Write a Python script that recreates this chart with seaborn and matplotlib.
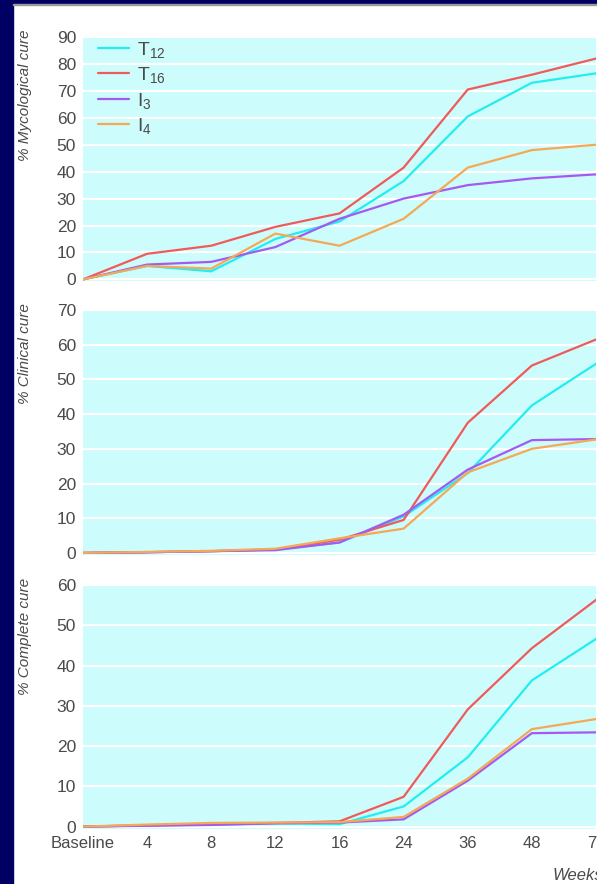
import numpy as np
import pandas as pd
import matplotlib
matplotlib.use("Agg")
import matplotlib.pyplot as plt
import seaborn as sns
from matplotlib.patches import Rectangle

# data
weeks = ["Baseline", "4", "8", "12", "16", "24", "36", "48", "72"]
groups = ["T12", "T16", "I3", "I4"]
group_labels = ["T$_{12}$", "T$_{16}$", "I$_3$", "I$_4$"]

myco_t12 = [0, 5, 3, 15, 21.5, 36.5, 60.5, 73, 76.5]
myco_t16 = [0, 9.5, 12.5, 19.5, 24.5, 41.5, 70.5, 76, 82]
myco_i3 = [0, 5.5, 6.5, 12, 22.5, 30, 35, 37.5, 39]
myco_i4 = [0, 5, 4, 17, 12.5, 22.5, 41.5, 48, 50]

clin_t12 = [0, 0.2, 0.5, 1, 3, 10.5, 23, 42.5, 54.5]
clin_t16 = [0, 0.2, 0.5, 1, 3.8, 9.5, 37.5, 54, 61.5]
clin_i3 = [0, 0.2, 0.5, 0.8, 3, 11, 24, 32.5, 32.8]
clin_i4 = [0, 0.3, 0.6, 1.2, 4.2, 7, 23.2, 30, 32.7]

comp_t12 = [0, 0.3, 0.5, 0.8, 0.6, 5, 17.2, 36.3, 46.6]
comp_t16 = [0, 0.3, 0.6, 0.9, 1.3, 7.4, 29.1, 44.3, 56.3]
comp_i3 = [0, 0.2, 0.4, 0.8, 1, 1.8, 11.4, 23.2, 23.4]
comp_i4 = [0, 0.5, 0.9, 1, 1.1, 2.4, 11.9, 24.2, 26.7]

colors = ["#22eef0", "#f05a5a", "#a45af0", "#f5a855"]
navy = "#000064"
bg = "#cdfcfc"
txt = "#4a4a4a"

sns.set_theme(style="white")
plt.rcParams["font.family"] = ["Liberation Sans", "DejaVu Sans"]
plt.rcParams["mathtext.fontset"] = "custom"
plt.rcParams["mathtext.rm"] = "Liberation Sans"
plt.rcParams["mathtext.it"] = "Liberation Sans:italic"


def long_form(t12, t16, i3, i4):
    rows = []
    for g, vals in zip(groups, [t12, t16, i3, i4]):
        for i, v in enumerate(vals):
            rows.append({"pos": i, "value": v, "group": g})
    return pd.DataFrame(rows)


panels = [
    (long_form(myco_t12, myco_t16, myco_i3, myco_i4), "% Mycological cure", 90, 37, 281),
    (long_form(clin_t12, clin_t16, clin_i3, clin_i4), "% Clinical cure", 70, 310, 555),
    (long_form(comp_t12, comp_t16, comp_i3, comp_i4), "% Complete cure", 60, 585, 829),
]

W, H = 597, 884
fig = plt.figure(figsize=(W / 100, H / 100), dpi=100)
fig.patch.set_facecolor("white")

fig.patches.append(Rectangle((0, 0), 13 / W, 1, transform=fig.transFigure,
                             color=navy, zorder=-1))
fig.patches.append(Rectangle((0, 1 - 4 / H), 1, 4 / H, transform=fig.transFigure,
                             color=navy, zorder=-1))
fig.patches.append(Rectangle((13 / W, 1 - 5 / H), 1, 1.2 / H, transform=fig.transFigure,
                             color="#9a9a9a", zorder=-1))

left, right = 83 / W, 596 / W
for k, (df, ylab, ymax, top_px, bot_px) in enumerate(panels):
    ax = fig.add_axes([left, 1 - bot_px / H, right - left, (bot_px - top_px) / H])
    ax.set_facecolor(bg)
    sns.lineplot(data=df, x="pos", y="value", hue="group", hue_order=groups,
                 palette=colors, linewidth=1.6, ax=ax, legend=(k == 0))
    ax.set_xlim(0, len(weeks) - 1)
    ax.set_ylim(-0.6, ymax)
    ax.set_yticks(np.arange(0, ymax + 1, 10))
    ax.yaxis.grid(True, color="white", linewidth=1.6)
    ax.set_axisbelow(True)
    for s in ax.spines.values():
        s.set_visible(False)
    ax.set_xticks(range(len(weeks)))
    if k == 2:
        ax.set_xticklabels(weeks)
    else:
        ax.set_xticklabels([])
    ax.tick_params(axis="x", direction="in", length=4, width=1, color="white",
                   labelsize=12, labelcolor=txt, pad=5)
    ax.tick_params(axis="y", length=0, labelsize=12.5, labelcolor=txt, pad=5)
    ax.set_xlabel("")
    ax.set_ylabel(ylab, fontsize=11, color=txt, style="italic", loc="top", labelpad=18)
    ax.yaxis.label.set_y(1.03)
    if k == 0:
        handles, _ = ax.get_legend_handles_labels()
        ax.legend(handles, group_labels, loc="upper left", bbox_to_anchor=(-0.004, 1.06),
                  frameon=False, fontsize=14, handlelength=1.55, labelspacing=0.28,
                  handletextpad=0.45, labelcolor=txt)

fig.text(553 / W, 1 - 876 / H, "Weeks", ha="left", va="center", style="italic",
         fontsize=12, color=txt)

fig.savefig("out.png", dpi=100)
